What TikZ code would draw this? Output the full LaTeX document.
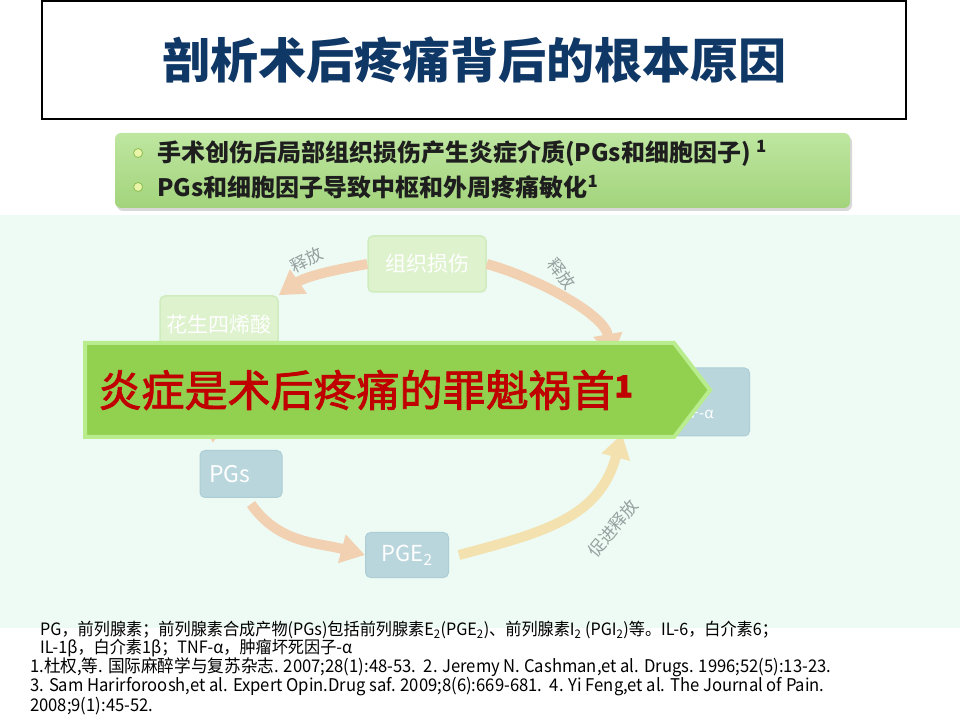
\documentclass[tikz,border=0pt]{standalone}
\usepackage{fontspec}
\setmainfont{Noto Sans CJK SC}
\newfontfamily\narrowfont[FakeStretch=0.95]{Noto Sans CJK SC}
\newfontfamily\medfont[FakeBold=2]{Noto Sans CJK SC}
\usetikzlibrary{arrows.meta,shadows,positioning}
\tikzset{
  >={Triangle[width=28pt,length=24pt]}
}
\definecolor{titleblue}{RGB}{16,56,102}
\definecolor{mint}{RGB}{237,251,244}
\definecolor{boxgreen}{RGB}{221,242,205}
\definecolor{boxgreenline}{RGB}{208,236,190}
\definecolor{boxblue}{RGB}{185,214,221}
\definecolor{boxblueline}{RGB}{172,205,213}
\definecolor{arrowpeach}{RGB}{242,208,178}
\definecolor{arrowyellow}{RGB}{243,226,176}
\definecolor{labelgray}{RGB}{150,160,160}
\definecolor{bultop}{RGB}{190,230,160}
\definecolor{bulbottom}{RGB}{163,212,124}
\definecolor{bullettext}{RGB}{30,30,30}
\definecolor{dotfill}{RGB}{235,245,170}
\definecolor{dotline}{RGB}{140,190,80}
\definecolor{bannergreen}{RGB}{146,208,80}
\definecolor{bannerglow}{RGB}{185,236,140}
\definecolor{bannerred}{RGB}{192,0,0}

\begin{document}
\begin{tikzpicture}[x=1pt,y=1pt,
        box/.style={rounded corners=5pt,minimum width=118pt,minimum height=56pt,text=white,font=\fontsize{21}{24}\selectfont},
        greenbox/.style={box,fill=boxgreen,draw=boxgreenline,line width=1.5pt},
        bluebox/.style={box,fill=boxblue,draw=boxblueline,line width=1pt},
        flow/.style={->,line width=10pt,draw=arrowpeach},
        lbl/.style={text=labelgray,font=\fontsize{17}{20}\selectfont},
        bul/.style={anchor=west,inner sep=0pt,text=bullettext,font=\fontsize{24}{27}\selectfont\bfseries},
        dot/.style={circle,fill=dotfill,draw=dotline,line width=0.8pt,minimum size=9pt,inner sep=0pt},
        note/.style={anchor=west,inner sep=0pt,font=\narrowfont\fontsize{17}{19}\selectfont}
      ]
      \useasboundingbox (0,0) rectangle (960,720);
      \fill[white] (0,0) rectangle (960,720);
      \fill[mint] (0,92) rectangle (960,505);
      \node (TITLE) at (474,660) [draw,line width=1.2pt,minimum width=864pt,minimum height=118pt,text=titleblue,font=\fontsize{48}{56}\selectfont\bfseries] {剖析术后疼痛背后的根本原因};
      \node (BULLETS) at (482.5,549.5) [rounded corners=6pt,top color=bultop,bottom color=bulbottom,drop shadow={opacity=0.3,shadow xshift=2pt,shadow yshift=-3pt},minimum width=735pt,minimum height=75pt] {};
      \node (B1) at (157,567) [bul] {手术创伤后局部组织损伤产生炎症介质(PGs和细胞因子) \textsuperscript{1}};
      \node (B2) at (157,533) [bul] {PGs和细胞因子导致中枢和外周疼痛敏化\textsuperscript{1}};
      \node (D1) [dot,left=14pt of B1.west] {};
      \node (D2) [dot,left=14pt of B2.west] {};
      \node (INJ) at (427,456) [greenbox] {组织损伤};
      \node (AA) at (219,395) [greenbox,minimum height=58pt] {花生四烯酸};
      \node (CYT) at (647,318) [bluebox,minimum width=205pt,minimum height=68pt] {};
      \node (CYTTXT) at (714,301) [anchor=base east,inner sep=0pt,text=white,font=\fontsize{15}{18}\selectfont] {IL-1β、IL-6、TNF-α};
      \node (PGS) at (241,246) [bluebox,minimum width=82pt,minimum height=47pt,text width=64pt,align=left,font=\fontsize{23}{26}\selectfont] {PGs};
      \node (PGE) at (407,165) [bluebox,minimum width=83pt,minimum height=45pt,font=\fontsize{22}{26}\selectfont] {PGE\textsubscript{2}};
      \coordinate (CYTIN) at (612,362);
      \coordinate (CYTOUT) at (622,286);
      \coordinate (PGSIN) at (213,277);
      \draw[flow] (INJ.west) to[out=190,in=35,looseness=0.9] (AA.north east);
      \draw[flow] (INJ.east) to[out=-15,in=100,looseness=0.75] (CYTIN);
      \draw[flow] (AA.south) to[out=-95,in=90] (PGSIN);
      \draw[flow] ([xshift=10pt,yshift=-6pt]PGS.south) to[out=-55,in=165] (PGE.west);
      \draw[flow,draw=arrowyellow] ([xshift=10pt]PGE.east) to[out=15,in=-105,looseness=1.1] (CYTOUT);
      \node (L1) at (307,460) [lbl,rotate=27] {释放};
      \node (L2) at (562,446) [lbl,rotate=-52] {释放};
      \node (L3) at (613,192) [lbl,rotate=50] {促进释放};
      \filldraw[fill=bannergreen,draw=bannerglow,line width=4pt] (85,377) -- (674,377) -- (710,330) -- (674,283) -- (85,283) -- cycle;
      \node (BANNER) at (95,330) [anchor=west,text=bannerred,font=\medfont\fontsize{43}{50}\selectfont] {炎症是术后疼痛的罪魁祸首\textsuperscript{\bfseries 1}};
      \node (N1) at (40,90) [note] {PG，前列腺素；前列腺素合成产物(PGs)包括前列腺素E\textsubscript{2}(PGE\textsubscript{2})、前列腺素I\textsubscript{2} (PGI\textsubscript{2})等。IL-6，白介素6；};
      \node (N2) at (40,72) [note] {IL-1β，白介素1β；TNF-α，肿瘤坏死因子-α};
      \node (N3) at (30,53) [note,font=\narrowfont\fontsize{17.5}{19}\selectfont] {1.杜权,等. 国际麻醉学与复苏杂志. 2007;28(1):48-53.\ \ 2. Jeremy N. Cashman,et al. Drugs. 1996;52(5):13-23.};
      \node (N4) at (30,33) [note,font=\narrowfont\fontsize{17.5}{19}\selectfont] {3. Sam Harirforoosh,et al. Expert Opin.Drug saf. 2009;8(6):669-681.\ \ 4. Yi Feng,et al. The Journal of Pain.};
      \node (N5) at (30,14) [note,font=\narrowfont\fontsize{17.5}{19}\selectfont] {2008;9(1):45-52.};
    \end{tikzpicture}
\end{document}
